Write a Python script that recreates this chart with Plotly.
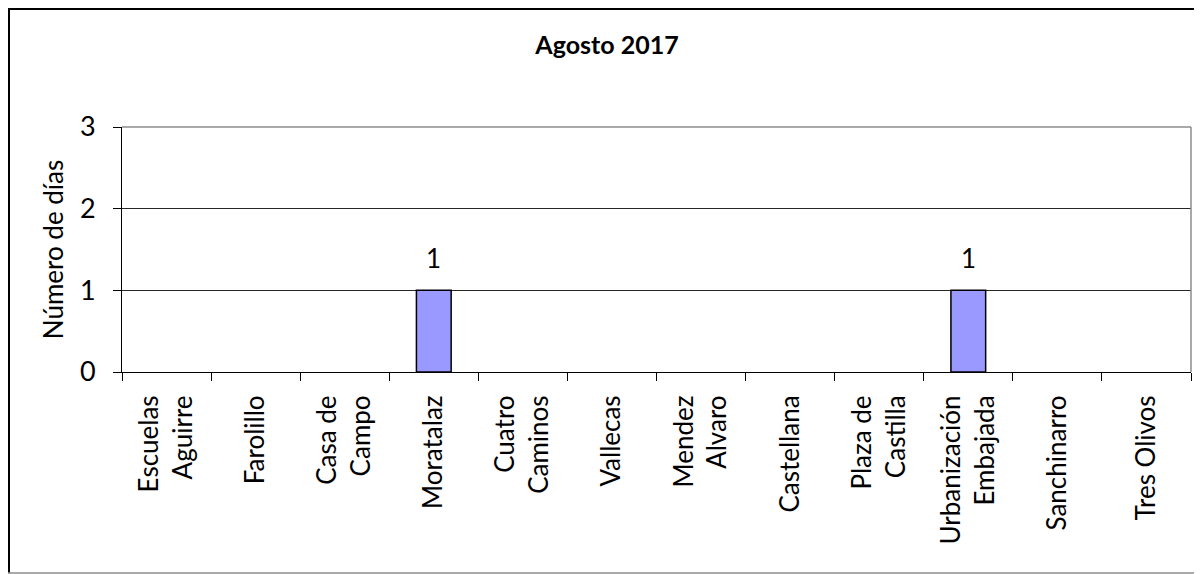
import plotly.graph_objects as go

categories = ["Escuelas<br>Aguirre", "Farolillo", "Casa de<br>Campo", "Moratalaz",
              "Cuatro<br>Caminos", "Vallecas", "Mendez<br>Alvaro", "Castellana",
              "Plaza de<br>Castilla", "Urbanización<br>Embajada", "Sanchinarro", "Tres Olivos"]
values = [0, 0, 0, 1, 0, 0, 0, 0, 0, 1, 0, 0]
title_text = "Agosto 2017"
y_title = "Número de días"
y_ticks = [0, 1, 2, 3]

FONT = "Lato"
# the page body adds an 8px offset; figure coordinates below compensate for it
OFF = 8
W, H = 1202 - OFF, 574 - OFF
L, T = 122 - OFF, 127 - OFF
PW, PH = 1191 - 122, 372 - 127
R, B = W - L - PW, H - T - PH

fig = go.Figure()
fig.add_trace(go.Bar(
    x=categories, y=values,
    marker=dict(color="#9999FF",
                line=dict(color="black", width=[1.5 if v > 0 else 0 for v in values])),
    hoverinfo="skip",
))

for c, v in zip(categories, values):
    if v > 0:
        fig.add_annotation(x=c, y=v, text=str(v), showarrow=False, yanchor="bottom",
                           yshift=14, font=dict(family=FONT, size=26, color="black"))

fig.update_layout(
    width=W, height=H,
    margin=dict(l=L, r=R, t=T, b=B),
    paper_bgcolor="white", plot_bgcolor="white",
    bargap=0.61, showlegend=False,
    title=dict(text="<b>" + title_text + "</b>", x=(607 - OFF) / W, xanchor="center",
               y=1 - (45 - OFF) / H, yanchor="middle",
               font=dict(family=FONT, size=25, color="black")),
    font=dict(family=FONT, size=26, color="black"),
)
fig.update_xaxes(
    type="category", showline=True, linecolor="black", linewidth=1,
    ticks="outside", tickson="boundaries", ticklen=8, tickcolor="black",
    tickangle=-90, tickfont=dict(family=FONT, size=26, color="black"),
    ticklabelstandoff=12, showgrid=False,
)
fig.update_yaxes(
    range=[0, 3], tickvals=y_ticks, showline=True, linecolor="black", linewidth=1,
    ticks="outside", ticklen=8, tickcolor="black", ticklabelstandoff=12,
    showgrid=True, gridcolor="#262626", gridwidth=1, zeroline=False,
    tickfont=dict(family=FONT, size=27, color="black"),
    title=dict(text=y_title, font=dict(family=FONT, size=26, color="black"), standoff=8),
)

# plot-area border (top/right, gray)
fig.add_shape(type="line", xref="paper", yref="paper", x0=0, x1=1, y0=1, y1=1,
              line=dict(color="#8c8c8c", width=1.5), layer="above")
fig.add_shape(type="line", xref="paper", yref="paper", x0=1, x1=1, y0=0, y1=1,
              line=dict(color="#8c8c8c", width=1.5), layer="above")

# outer chart border (figure pixel coordinates -> paper)
def px_x(p):
    return (p - L) / PW
def px_y(p):
    return (T + PH - p) / PH
fig.add_shape(type="line", xref="paper", yref="paper", x0=px_x(0), x1=px_x(W + 5),
              y0=px_y(1), y1=px_y(1), line=dict(color="black", width=2))
fig.add_shape(type="line", xref="paper", yref="paper", x0=px_x(1), x1=px_x(1),
              y0=px_y(0), y1=px_y(H - 1), line=dict(color="black", width=2))
fig.add_shape(type="line", xref="paper", yref="paper", x0=px_x(0), x1=px_x(W + 5),
              y0=px_y(H - 1), y1=px_y(H - 1), line=dict(color="#8c8c8c", width=1.5))

fig.write_html("out.html")
